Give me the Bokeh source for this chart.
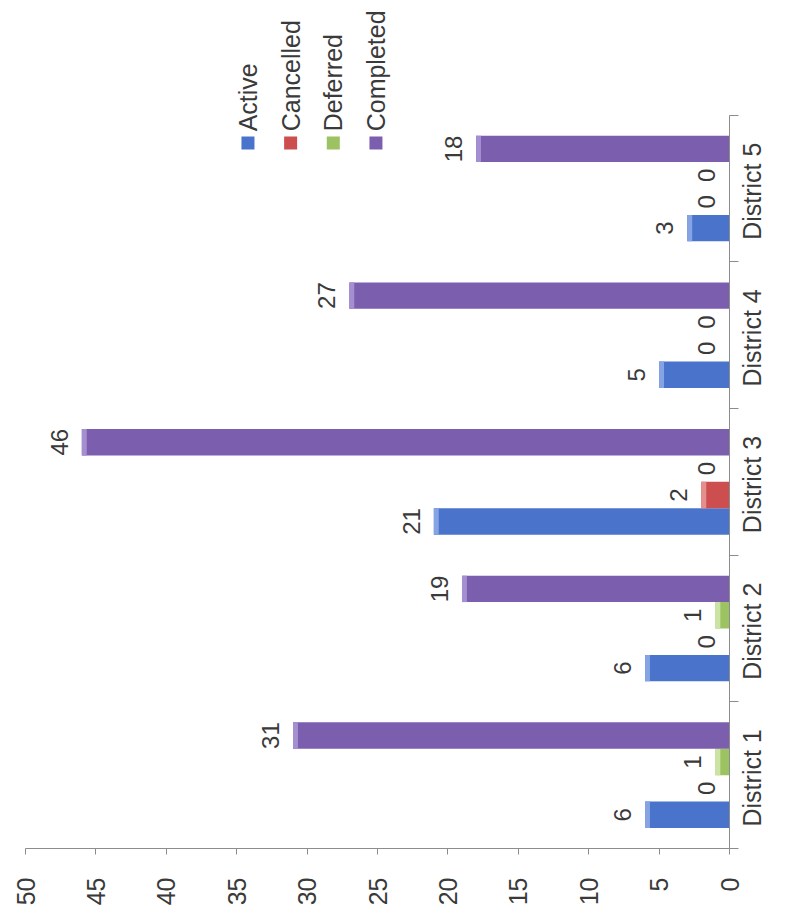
import math
from bokeh.plotting import figure
from bokeh.models import Range1d, LinearAxis, FixedTicker, ColumnDataSource, Label
from bokeh.transform import dodge
from bokeh.core.properties import value
from bokeh.embed import file_html
from bokeh.resources import INLINE

# ---- data ----
districts = ["District 1", "District 2", "District 3", "District 4", "District 5"]
statuses = ["Active", "Cancelled", "Deferred", "Completed"]
active = [6, 6, 21, 5, 3]
cancelled = [0, 0, 2, 0, 0]
deferred = [1, 1, 0, 0, 0]
completed = [31, 19, 46, 27, 18]
value_ticks = [0, 5, 10, 15, 20, 25, 30, 35, 40, 45, 50]

# ---- styles ----
FONT = "Liberation Sans"
TEXT = "#3a3a3a"
AXIS = "#8c8c8c"
colors = {"Active": "#4a74cb", "Cancelled": "#cc4e4e", "Deferred": "#9cc262", "Completed": "#7b5fae"}
tips = {"Active": "#86a4e4", "Cancelled": "#e48e8e", "Deferred": "#cbe3a4", "Completed": "#a48fd0"}
offsets = [-0.27, -0.09, 0.09, 0.27]
BAR_H = 0.18
LABEL_SHIFT = 0.35   # moves rotated category labels so they sit centred on their category
VALUE_GAP = 1.6      # gap (in value units) between a bar's end and its value label

n = len(districts)
series = {"Active": active, "Cancelled": cancelled, "Deferred": deferred, "Completed": completed}
data = {"district": districts, "pos": list(range(n))}
for s in statuses:
    data[s] = series[s]
    data[s + "_lbl"] = [str(v) for v in series[s]]
source = ColumnDataSource(data)

p = figure(width=785, height=908,
           x_range=Range1d(50, 0),
           y_range=Range1d(-0.5, 5.282),
           output_backend="svg", toolbar_location=None, tools="",
           y_axis_location=None, x_axis_location="below",
           min_border_left=25, min_border_right=56,
           min_border_top=0, min_border_bottom=58)
p.outline_line_color = None
p.background_fill_color = "white"
p.border_fill_color = "white"
p.grid.visible = False

for s, off in zip(statuses, offsets):
    ypos = dodge("pos", off)
    p.hbar(y=ypos, left=0, right=s, height=BAR_H, source=source,
           fill_color=colors[s], line_color=None)
    p.hbar(y=ypos, left=dodge(s, -0.35), right=s, height=BAR_H, source=source,
           fill_color=tips[s], line_color=None)
    p.text(x=dodge(s, VALUE_GAP), y=ypos, text=s + "_lbl", source=source,
           angle=math.pi / 2, text_align="center", text_baseline="alphabetic",
           text_font=value(FONT), text_font_size="24px", text_color=TEXT)

# bottom value axis
xa = p.xaxis[0]
xa.ticker = FixedTicker(ticks=value_ticks)
xa.major_label_orientation = math.pi / 2
xa.major_tick_out = 6
xa.major_tick_in = 0
xa.minor_tick_line_color = None
xa.axis_line_color = AXIS
xa.major_tick_line_color = AXIS
xa.major_label_text_font = FONT
xa.major_label_text_font_size = "25px"
xa.major_label_text_color = TEXT
xa.major_label_standoff = 23

# right category axis (ticks between categories)
label_ticks = [i - LABEL_SHIFT for i in range(n)]
bounds = [i - 0.5 for i in range(n + 1)]
ya = LinearAxis(ticker=FixedTicker(ticks=label_ticks, minor_ticks=bounds),
                bounds=(-0.5, n - 0.5),
                major_label_overrides={t: d for t, d in zip(label_ticks, districts)},
                major_tick_out=9, major_tick_in=0, major_tick_line_color=None,
                minor_tick_out=9, minor_tick_in=0, minor_tick_line_color=AXIS,
                axis_line_color=AXIS,
                major_label_orientation=math.pi / 2,
                major_label_standoff=14,
                major_label_text_font=FONT, major_label_text_font_size="25px",
                major_label_text_color=TEXT)
p.add_layout(ya, "right")

# legend (rotated, drawn manually)
leg_x0 = 34.2
leg_step = 3.03
leg_xs = [leg_x0 - i * leg_step for i in range(len(statuses))]
for lx, s in zip(leg_xs, statuses):
    p.add_layout(Label(x=lx, y=4.39, text=s, angle=math.pi / 2,
                       text_align="left", text_baseline="middle",
                       text_font=FONT, text_font_size="25px", text_color=TEXT))
p.scatter(x=leg_xs, y=[4.31] * len(statuses), marker="square",
          size=13, fill_color=[colors[s] for s in statuses], line_color=None)

open("out.html", "w").write(file_html(p, INLINE))
